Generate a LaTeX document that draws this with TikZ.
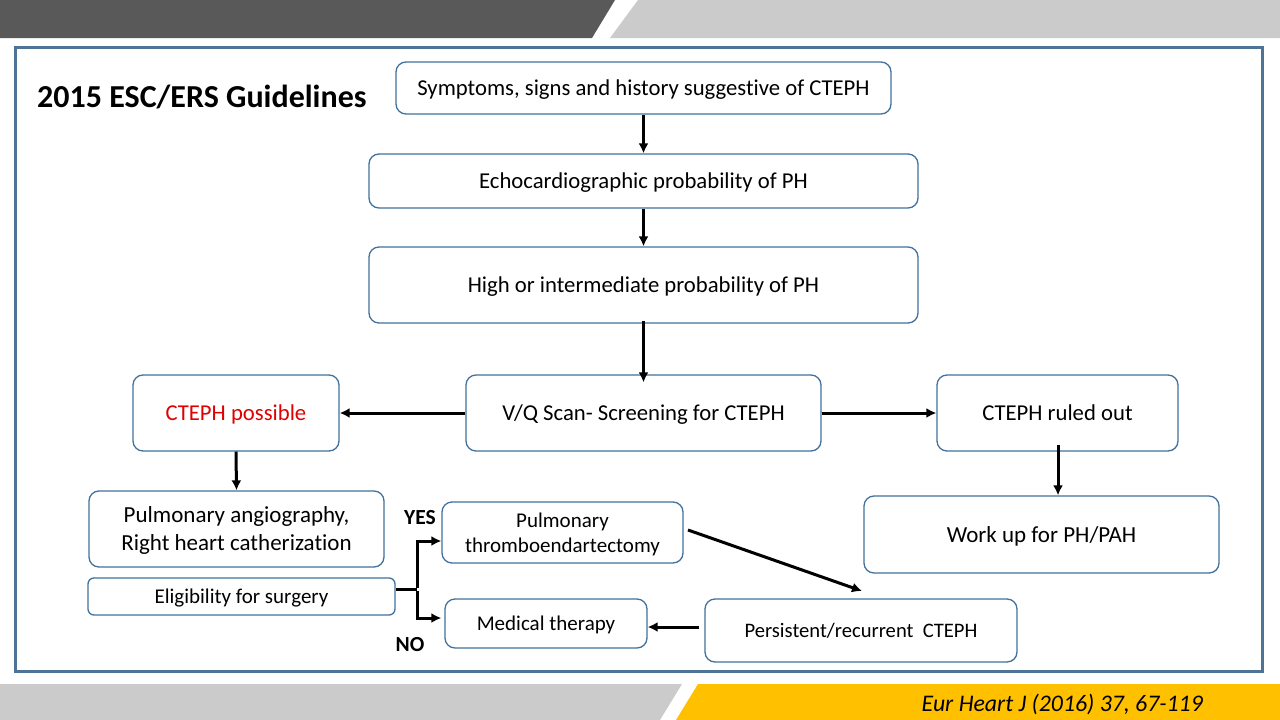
\documentclass[tikz,border=0pt]{standalone}
\usepackage{fontspec}
\setmainfont{Carlito}[Ligatures=NoCommon]
\usetikzlibrary{arrows.meta}
\definecolor{boxblue}{HTML}{41719C}
\definecolor{framblue}{HTML}{4E7395}
\definecolor{bandark}{HTML}{595959}
\definecolor{banlight}{HTML}{CBCBCB}
\definecolor{banyellow}{HTML}{FFC000}
\definecolor{possred}{HTML}{E00000}

\begin{document}
\begin{tikzpicture}[x=1pt,y=-1pt]

\tikzstyle{flownode} = [rectangle,draw=boxblue,line width=1.3pt,rounded corners=10pt,fill=white,inner sep=0,text depth=0pt,align=center,text=black,font=\fontsize{22.7}{27}\selectfont]%
\tikzstyle{flowsmall} = [flownode, font=\fontsize{21}{25}\selectfont]%
\tikzstyle{flowbig} = [flownode, font=\fontsize{23}{28}\selectfont]%
\tikzstyle{flowarc} = [-{Latex[length=10pt,width=10pt]},line width=3pt,black]%
\tikzstyle{answer} = [inner sep=0,font=\bfseries\fontsize{21.5}{25}\selectfont]%

\useasboundingbox (0,0) rectangle (1280,720);
\fill[white] (0,0) rectangle (1280,720);

% banners
\fill[bandark] (0,0) -- (615,0) -- (592,38) -- (0,38) -- cycle;
\fill[banlight] (638,0) -- (1280,0) -- (1280,38) -- (610,38) -- cycle;
\fill[banlight] (0,684) -- (682,684) -- (660,720) -- (0,720) -- cycle;
\fill[banyellow] (698,684) -- (1280,684) -- (1280,720) -- (676,720) -- cycle;
\draw[framblue,line width=3pt] (15,47) rectangle (1262,671);

\node[anchor=west,inner sep=0,font=\bfseries\fontsize{32}{36}\selectfont] (title) at (37,97) {2015 ESC/ERS Guidelines};
\node[anchor=east,inner sep=0,font=\itshape\fontsize{23.8}{28}\selectfont] (ref) at (1203,704) {Eur Heart J (2016) 37, 67-119};

\node[flownode, minimum width=495pt, minimum height=52pt] (sympt) at (643.5,88) {Symptoms, signs and history suggestive of CTEPH};
\node[flownode, minimum width=549pt, minimum height=54pt] (echo) at (643.5,181) {Echocardiographic probability of PH};
\node[flownode, minimum width=549pt, minimum height=76pt] (high) at (643.5,285) {High or intermediate probability of PH};
\node[flownode, minimum width=355pt, minimum height=76pt] (vq) at (643.5,413) {V/Q Scan- Screening for CTEPH};
\node[flownode, minimum width=206pt, minimum height=76pt, text=possred] (poss) at (236,413) {CTEPH possible};
\node[flownode, minimum width=241pt, minimum height=76pt] (out) at (1057.5,413) {CTEPH ruled out};
\node[flowbig, minimum width=295pt, minimum height=76pt] (angio) at (236.5,529) {Pulmonary angiography,\\Right heart catherization};
\node[flowsmall, minimum width=307pt, minimum height=37pt, rounded corners=6pt] (elig) at (241.5,596.5) {Eligibility for surgery};
\node[flowsmall, minimum width=241pt, minimum height=61pt] (pte) at (562.5,532.5) {Pulmonary\\thromboendartectomy};
\node[flowsmall, minimum width=202pt, minimum height=49pt] (med) at (546,623.5) {Medical therapy};
\node[flowsmall, minimum width=312pt, minimum height=63pt, font=\fontsize{20.6}{25}\selectfont] (pers) at (861,630.5) {Persistent/recurrent\ \ CTEPH};
\node[flowbig, minimum width=355pt, minimum height=77pt] (work) at (1041.5,534.5) {Work up for PH/PAH};

\node[answer] (yes) at (420,518) {YES};
\node[answer] (no) at (410,645) {NO};

\coordinate (split) at (417,589);

\draw[flowarc] (sympt.south) -- (echo.north);
\draw[flowarc] (echo.south) -- (high.north);
\draw[flowarc] ([yshift=3pt]high.south) -- ([yshift=-8pt]vq.north);
\draw[flowarc] (vq.west) -- (poss.east);
\draw[flowarc] (vq.east) -- (out.west);
\draw[flowarc] (poss.south) -- (angio.north);
\draw[flowarc] ([xshift=0.5pt,yshift=7pt]out.south) -- ([xshift=16.5pt]work.north);

\draw[line width=3pt] (elig.east |- split) -- (split);
\draw[flowarc] ([yshift=1.5pt]split) -- (split |- 0,541) -- (pte.west |- 0,541);
\draw[flowarc] ([yshift=-1.5pt]split) -- (split |- 0,618) -- (pte.west |- 0,618);
\draw[flowarc] (688,530) -- (862,591);
\draw[flowarc] ([xshift=-5pt]pers.west |- 0,627) -- (med.east |- 0,627);

\end{tikzpicture}
\end{document}
